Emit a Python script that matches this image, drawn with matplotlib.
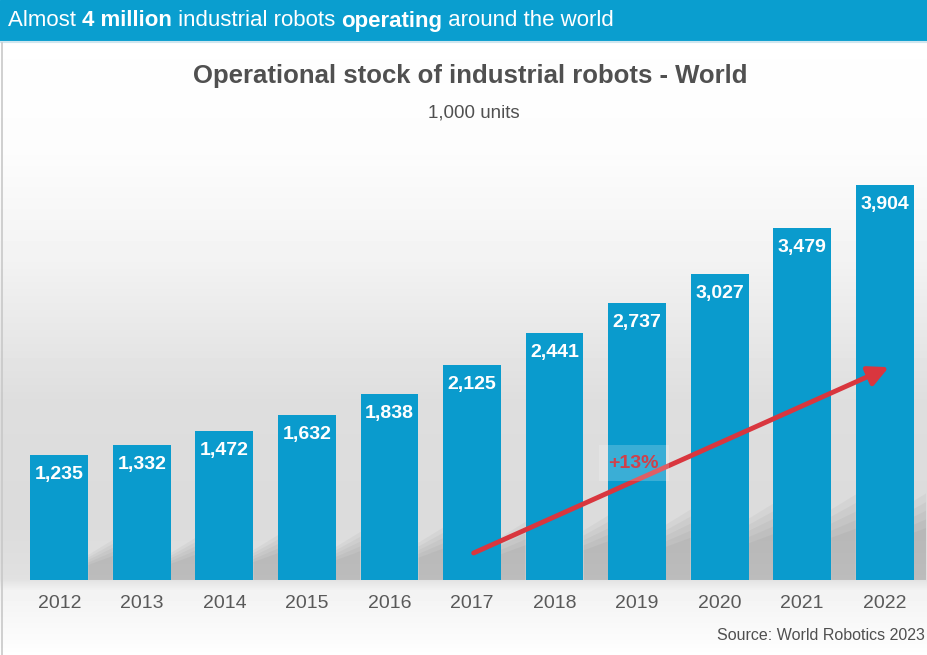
import numpy as np
import matplotlib.pyplot as plt
from matplotlib.patches import Rectangle, Polygon, FancyArrowPatch

plt.rcParams['font.family'] = ['Liberation Sans', 'DejaVu Sans']

years = ['2012', '2013', '2014', '2015', '2016', '2017', '2018', '2019', '2020', '2021', '2022']
stock = [1235, 1332, 1472, 1632, 1838, 2125, 2441, 2737, 3027, 3479, 3904]
growth_label = '+13%'

W, H = 928, 655
fig = plt.figure(figsize=(W / 100, H / 100), dpi=100)

# background gradient (white -> grey -> white)
bg = fig.add_axes([0, 0, 1, 1])
bg.set_xlim(0, W)
bg.set_ylim(H, 0)
bg.axis('off')
ys = np.array([0, 150, 260, 400, 520, 578, 590, 640, 655])
vals = np.array([1.0, 0.99, 0.95, 0.87, 0.86, 0.88, 0.95, 0.985, 1.0])
grad = np.interp(np.arange(H), ys, vals)[:, None] * np.ones((1, 2))
bg.imshow(grad, cmap='gray', vmin=0, vmax=1, extent=[0, W, H, 0], aspect='auto', zorder=0)
bg.add_patch(Rectangle((0, 0), W, 41, color='#0a9ecf', zorder=2))
bg.plot([0, W], [42, 42], color='#cfe6ef', lw=1.5, zorder=2)
bg.plot([2, 2], [43, H], color='#c8c8c8', lw=1.2, zorder=2)

# header text with bold parts
parts = [('Almost ', 'normal'), ('4 million', 'bold'), (' industrial robots ', 'normal'),
         ('operating', 'bold'), (' around the world', 'normal')]
fig.canvas.draw()
r = fig.canvas.get_renderer()
x = 8
for txt, wt in parts:
    t = bg.text(x, 21, txt, color='white', fontsize=16, fontweight=wt,
                va='center', ha='left', zorder=3)
    bb = t.get_window_extent(renderer=r)
    x += bb.width

bg.text(470, 76, 'Operational stock of industrial robots - World', fontsize=18.5,
        fontweight='bold', color='#505050', ha='center', va='center')
bg.text(474, 113, '1,000 units', fontsize=13.5, color='#505050', ha='center', va='center')
bg.text(925, 636, 'Source: World Robotics 2023', fontsize=11.5, color='#505050',
        ha='right', va='center')

# main axes: x -0.5..10.5 spans px 18..926, baseline at y=580
ax = fig.add_axes([18 / W, 75 / H, 908 / W, 455 / H])
ax.patch.set_alpha(0)
ax.set_xlim(-0.5, 10.5)
ax.set_ylim(0, 4500)
ax.axis('off')

xs = np.arange(len(years))
bw = 0.70
gap = 1 - bw
# soft cast shadows to the right of each bar
for i, v in enumerate(stock):
    x0 = i + bw / 2
    for f in [1.0, 0.9, 0.8, 0.7, 0.6]:
        h0 = 0.2 * v * f
        h1 = (0.2 * v + 150) * f
        poly = Polygon([(x0, 0), (x0, h0), (x0 + gap, h1), (x0 + gap, 0)],
                       closed=True, color='#303030', alpha=0.045, lw=0, zorder=1)
        ax.add_patch(poly)

ax.bar(xs, stock, width=bw, color='#0a9bcd', zorder=2)
for i, v in enumerate(stock):
    ax.text(i, v - 190, f'{v:,}', color='white', fontsize=14, fontweight='bold',
            ha='center', va='center', zorder=3)
    ax.text(i, -230, years[i], color='#595959', fontsize=14, ha='center', va='center',
            clip_on=False)

arrow = FancyArrowPatch((5.02, 267), (10.05, 2105), arrowstyle='-|>', mutation_scale=30,
                        color='#d9363e', lw=3.5, zorder=4, shrinkA=0, shrinkB=0)
ax.add_patch(arrow)
ax.text(6.96, 1156, growth_label, color='#d0404a', fontsize=14, fontweight='bold',
        ha='center', va='center', zorder=5,
        bbox=dict(boxstyle='square,pad=0.5', fc='white', ec='none', alpha=0.2))

fig.savefig('out.png', dpi=100)
